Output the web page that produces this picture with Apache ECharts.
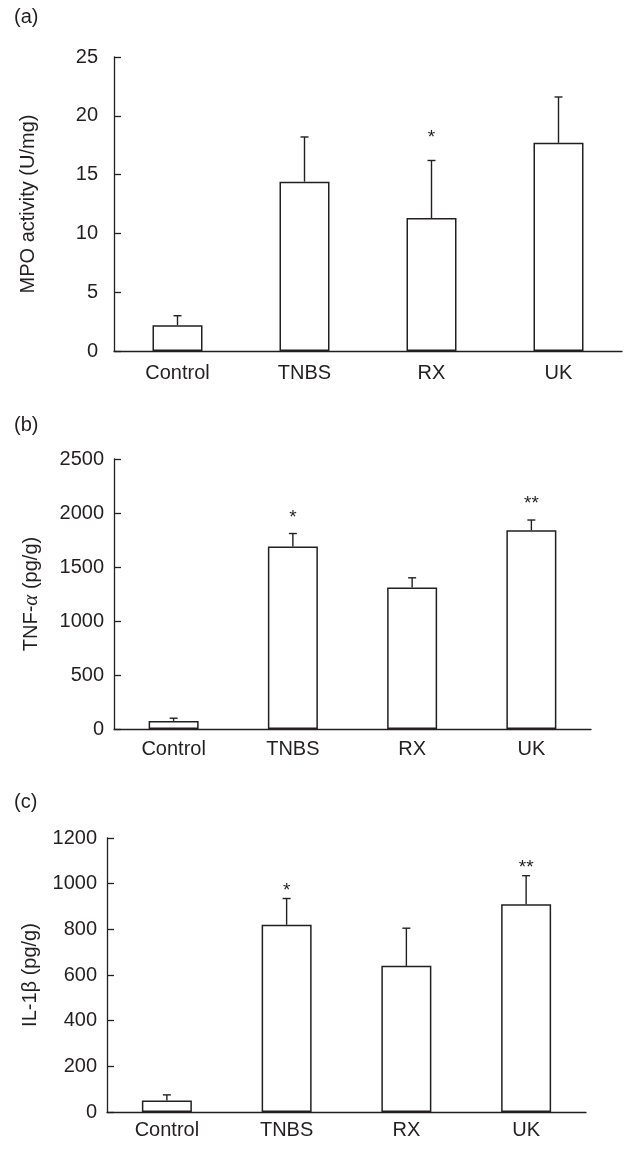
<!DOCTYPE html>
<html>
<head>
<meta charset="utf-8">
<script src="https://cdn.jsdelivr.net/npm/echarts@6/dist/echarts.min.js"></script>
<style>
  html, body { margin: 0; padding: 0; background: #fff; }
  #main { width: 629px; height: 1151px; }
</style>
</head>
<body>
<div id="main"></div>
<script>
// groups on the x axis
var groups = ['Control', 'TNBS', 'RX', 'UK'];

// (a) MPO activity, mean and SD
var mpoMean = [2.2, 14.4, 11.3, 17.7];
var mpoSd = [0.8, 3.8, 4.9, 3.9];
var mpoStars = ['', '', '*', ''];

// (b) TNF-alpha
var tnfMean = [75, 1690, 1310, 1840];
var tnfSd = [25, 120, 90, 95];
var tnfStars = ['', '*', '', '**'];

// (c) IL-1beta
var il1Mean = [50, 820, 640, 910];
var il1Sd = [25, 115, 165, 125];
var il1Stars = ['', '*', '', '**'];

var ink = '#231f20';
var font = 'Liberation Sans, Arial, sans-serif';

// one entry per panel: data + layout
var panels = [
  { tag: '(a)', name: 'MPO activity (U/mg)', mean: mpoMean, sd: mpoSd, stars: mpoStars,
    max: 25, step: 5, grid: { left: 114, top: 57, width: 508, height: 294 },
    tagTop: 7, nameGap: 76, labelMargin: 16, xMargin: 12, starGap: 29 },
  { tag: '(b)', name: '{t|TNF-}{g|\u03b1}{t| (pg/g)}', mean: tnfMean, sd: tnfSd, stars: tnfStars,
    max: 2500, step: 500, grid: { left: 114, top: 459, width: 477, height: 270 },
    tagTop: 415, nameGap: 72, labelMargin: 10, xMargin: 10, starGap: 22 },
  { tag: '(c)', name: 'IL-1\u03b2 (pg/g)', mean: il1Mean, sd: il1Sd, stars: il1Stars,
    max: 1200, step: 200, grid: { left: 107, top: 838, width: 479, height: 274 },
    tagTop: 792, nameGap: 67, labelMargin: 10, xMargin: 8, starGap: 14 }
];

var chart = echarts.init(document.getElementById('main'));

var option = {
  animation: false,
  backgroundColor: '#fff',
  textStyle: { fontFamily: font, color: ink },
  title: [],
  grid: [],
  xAxis: [],
  yAxis: [],
  series: []
};

panels.forEach(function (p, k) {
  option.title.push({
    text: p.tag, left: 14, top: p.tagTop, padding: 0,
    textStyle: { fontSize: 20, fontWeight: 'normal', color: ink, fontFamily: font }
  });
  option.grid.push(p.grid);
  option.xAxis.push({
    type: 'category', gridIndex: k, data: groups,
    axisLine: { lineStyle: { color: ink, width: 1.3 } },
    axisTick: { inside: true, length: 7, lineStyle: { color: ink, width: 1.3 } },
    axisLabel: { fontSize: 20, color: ink, margin: p.xMargin, fontFamily: font }
  });
  option.yAxis.push({
    type: 'value', gridIndex: k, min: 0, max: p.max, interval: p.step,
    name: p.name, nameLocation: 'middle', nameGap: p.nameGap,
    nameTextStyle: {
      fontSize: 20, color: ink, fontFamily: font,
      rich: {
        t: { fontSize: 20, color: ink, fontFamily: font },
        g: { fontSize: 21, color: ink, fontFamily: 'Liberation Serif, serif', fontStyle: 'italic' }
      }
    },
    axisLine: { show: true, lineStyle: { color: ink, width: 1.3 } },
    axisTick: { show: true, inside: true, length: 7, lineStyle: { color: ink, width: 1.3 } },
    axisLabel: {
      fontSize: 20, color: ink, margin: p.labelMargin, fontFamily: font,
      formatter: function (v) { return String(v); }
    },
    splitLine: { show: false }
  });
  option.series.push({
    type: 'bar', xAxisIndex: k, yAxisIndex: k,
    data: p.mean, barWidth: 50,
    itemStyle: { color: '#fff', borderColor: ink, borderWidth: 1.5 },
    z: 3
  });
  option.series.push({
    type: 'custom', xAxisIndex: k, yAxisIndex: k, z: 4,
    data: p.mean.map(function (m, i) { return [i, m, m + p.sd[i]]; }),
    renderItem: function (params, api) {
      var i = api.value(0);
      var base = api.coord([i, api.value(1)]);
      var top = api.coord([i, api.value(2)]);
      var cap = 4;
      var lineStyle = { stroke: ink, lineWidth: 1.4 };
      var kids = [
        { type: 'line', shape: { x1: base[0], y1: base[1], x2: top[0], y2: top[1] }, style: lineStyle },
        { type: 'line', shape: { x1: top[0] - cap, y1: top[1], x2: top[0] + cap, y2: top[1] }, style: lineStyle }
      ];
      var star = p.stars[params.dataIndex];
      if (star) {
        kids.push({
          type: 'text', x: top[0], y: top[1] - p.starGap + 6,
          style: { text: star, fill: ink, fontSize: 19, fontFamily: font, align: 'center', verticalAlign: 'middle' }
        });
      }
      return { type: 'group', children: kids };
    }
  });
});

chart.setOption(option);
</script>
</body>
</html>
